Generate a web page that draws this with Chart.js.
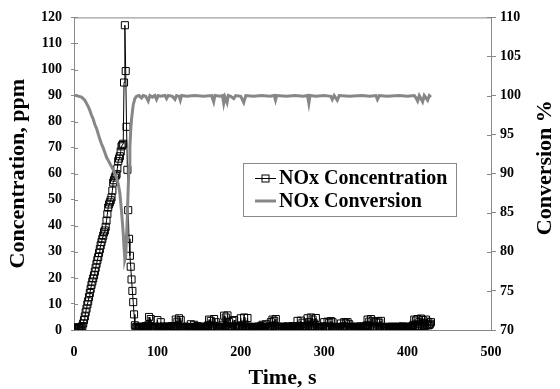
<!DOCTYPE html>
<html><head><meta charset="utf-8">
<script src="https://cdn.jsdelivr.net/npm/chart.js@4.4.0/dist/chart.umd.min.js"></script>
<style>html,body{margin:0;padding:0;background:#fff;}</style>
</head><body>
<canvas id="c" width="560" height="389"></canvas>
<script>
// ---- data ----
const concTime = [
  0,1,2,3,4,5,6,7,8,9,10,11,12,13,14,15,16,17,18,19,20,21,22,23,24,25,26,27,28,29,
  30,31,32,33,34,35,36,37,38,39,40,41,42,43,44,45,46,47,48,49,50,51,52,53,54,55,56,57,58,59,
  60,61,62,63,64,65,66,67,68,69,70,71,72,73,74,
  75,76,77,78,79,80,81,82,83,84,85,86,87,88,89,90,91,92,93,94,
  95,96,97,98,99,100,101,102,103,104,105,106,107,108,109,110,111,112,113,114,
  115,116,117,118,119,120,121,122,123,124,125,126,127,128,129,130,131,132,133,134,
  135,136,137,138,139,140,141,142,143,144,145,146,147,148,149,150,151,152,153,154,
  155,156,157,158,159,160,161,162,163,164,165,166,167,168,169,170,171,172,173,174,
  175,176,177,178,179,180,181,182,183,184,185,186,187,188,189,190,191,192,193,194,
  195,196,197,198,199,200,201,202,203,204,205,206,207,208,209,210,211,212,213,214,
  215,216,217,218,219,220,221,222,223,224,225,226,227,228,229,230,231,232,233,234,
  235,236,237,238,239,240,241,242,243,244,245,246,247,248,249,250,251,252,253,254,
  255,256,257,258,259,260,261,262,263,264,265,266,267,268,269,270,271,272,273,274,
  275,276,277,278,279,280,281,282,283,284,285,286,287,288,289,290,291,292,293,294,
  295,296,297,298,299,300,301,302,303,304,305,306,307,308,309,310,311,312,313,314,
  315,316,317,318,319,320,321,322,323,324,325,326,327,328,329,330,331,332,333,334,
  335,336,337,338,339,340,341,342,343,344,345,346,347,348,349,350,351,352,353,354,
  355,356,357,358,359,360,361,362,363,364,365,366,367,368,369,370,371,372,373,374,
  375,376,377,378,379,380,381,382,383,384,385,386,387,388,389,390,391,392,393,394,
  395,396,397,398,399,400,401,402,403,404,405,406,407,408,409,410,411,412,413,414,
  415,416,417,418,419,420,421,422,423,424,425,426,427,428
];
const concValue = [
  0.8,0.5,1.0,0.6,0.9,0.5,1.0,0.7,0.9,1.2,1.5,2.5,3.8,5.2,6.8,8.2,9.8,11.0,12.6,14.2,
  15.8,17.3,18.6,19.8,21.0,22.4,23.9,25.4,26.8,28.0,29.6,31.0,32.5,33.8,35.0,36.2,37.5,38.2,39.6,42.0,
  44.5,47.0,48.2,49.0,49.8,50.9,53.5,56.6,57.5,58.5,59.2,59.8,62.0,64.8,65.8,66.7,68.5,70.5,71.0,71.5,
  95.0,117.0,99.4,78.0,61.5,46.0,35.0,28.5,24.3,19.4,15.0,10.7,6.0,1.8,1.0,
  1.2,0.8,0.4,1.0,1.3,0.5,0.9,1.2,0.7,0.6, 1.0,1.5,0.6,1.0,1.8,5.0,1.2,4.2,0.8,1.0,
  0.4,0.6,1.0,1.2,0.7,3.8,1.3,1.0,0.6,3.0, 1.1,1.0,0.7,0.5,1.2,1.4,0.6,0.8,1.0,0.5,
  0.9,1.0,1.3,1.5,0.6,0.8,1.5,4.0,1.0,3.2, 1.4,4.5,1.0,3.8,0.8,1.2,1.0,0.6,1.3,1.0,
  0.7,0.5,1.1,1.2,0.6,2.2,0.9,1.0,0.5,2.0, 1.2,0.8,0.5,1.5,1.0,0.6,1.3,1.0,0.7,0.5,
  1.0,1.2,0.6,0.8,1.1,1.5,1.8,4.0,1.0,3.5, 0.8,1.0,1.6,4.2,1.1,3.0,0.6,1.2,0.9,0.6,
  1.3,1.0,0.7,2.0,1.2,5.5,1.0,4.8,1.5,5.6, 1.0,3.0,0.8,1.0,1.4,3.5,1.0,3.8,0.6,1.2,
  0.9,0.6,1.3,1.0,1.5,4.5,0.8,1.5,1.1,4.8, 0.7,1.2,1.0,4.6,1.3,0.8,0.6,1.0,1.2,0.5,
  0.9,1.2,1.0,0.8,0.5,1.0,1.3,0.5,0.8,1.5, 1.0,2.0,0.7,1.0,1.2,2.2,1.0,0.8,0.6,1.2,
  1.4,3.0,1.0,4.0,1.6,3.5,1.0,4.2,0.8,1.0, 1.2,0.6,0.9,1.2,0.5,0.8,1.3,1.0,0.7,0.5,
  1.0,1.4,1.2,0.8,0.6,1.0,1.1,1.5,0.9,0.6, 1.3,1.0,0.8,3.5,1.0,1.2,1.5,3.6,1.2,2.8,
  0.7,1.0,1.2,0.6,1.5,4.5,1.0,3.0,1.3,4.8, 1.6,4.0,1.0,2.5,1.2,4.6,0.7,1.0,1.3,0.8,
  0.6,1.2,1.0,0.6,1.4,3.0,0.8,1.0,1.2,3.2, 1.0,2.8,1.3,3.4,1.1,3.0,0.7,1.2,1.0,0.8,
  0.5,1.0,1.2,0.5,0.9,2.5,1.0,1.2,1.4,3.0, 1.1,2.6,1.0,3.0,1.2,2.2,0.6,1.0,1.3,0.6,
  0.9,1.2,1.0,0.8,0.6,1.0,1.3,0.5,0.8,1.4, 1.0,0.8,1.2,1.0,0.7,1.5,1.8,4.0,1.1,3.2,
  1.4,4.2,1.0,3.5,0.8,1.0,1.2,3.0,1.0,3.4, 1.3,2.8,1.0,3.5,0.9,1.2,0.6,0.8,1.2,1.0,
  0.7,0.6,1.0,1.2,0.5,0.8,1.3,1.0,0.7,0.5, 1.0,1.2,0.9,0.8,1.3,1.0,0.6,0.6,1.1,1.4,
  1.0,0.8,1.2,1.0,0.7,0.5,1.0,1.2,1.3,0.8, 1.1,1.5,2.0,4.0,1.2,3.6,1.5,4.2,1.3,3.0,
  2.2,4.4,1.6,3.8,2.0,2.6,1.5,4.0,2.1,3.2, 1.8,2.0,2.4,3.0
];
const convTime = [
  0,3,6,9,11,13,15,17,19,21,23,25,27,29,31,33,35,37,39,41,43,45,47,49,51,53,55,57,59,60,
  61,62,63,64,65,66,67,68,69,71,73,75,
  78,81,83,86,89,91,94,97,99,101,104,109,111,113,118,121,123,126,127.5,129,135,145,155,165,
  167.5,169,175,178,179.5,181,183.5,185,188,191.5,194,200,203.5,206,215,225,235,240,241.6,243,
  255,265,275,280,281.6,283,290,300,308,309.7,312,315.7,318,330,345,355,362,363.8,366,375,
  390,400,408,410,412,414,416,418,420,422,424,426,428
];
const convValue = [
  100,100,99.9,99.8,99.6,99.4,99.0,98.6,98.1,97.5,97.0,96.3,95.8,95.1,94.4,93.8,93.3,92.7,92.1,91.7,
  91.3,90.9,90.5,90.0,89.5,88.7,87.5,85.2,82.4,80.6,
  79.0,79.4,81.8,84.8,88.2,91.0,93.4,95.5,97.0,98.8,99.6,99.9,
  100,99.7,100,99.9,99.3,100,99.8,100,99.5,100,99.9,100,99.6,100,99.9,99.5,100,99.9,99.4,100,99.9,100,99.9,100,
  99.2,100,99.9,100,99.0,99.8,99.1,100,99.9,99.6,100,99.9,99.1,100,99.9,100,99.9,100,99.4,100,
  99.9,100,99.9,100,99.0,100,99.9,100,99.9,99.5,100,99.4,100,99.9,100,99.9,100,99.5,100,99.9,
  100,99.9,100,99.7,99.3,100,99.6,99.2,100,99.7,99.4,100,99.8
];
const xTickValues = [0,100,200,300,400,500];
const leftTickValues = [0,10,20,30,40,50,60,70,80,90,100,110,120];
const rightTickValues = [70,75,80,85,90,95,100,105,110];
const seriesNames = ['NOx Concentration','NOx Conversion'];
const axisTitles = {x:'Time, s', left:'Concentration, ppm', right:'Conversion %'};

// ---- styling ----
const FONT = '"Liberation Serif","Times New Roman",serif';
const AXIS = '#888888';
const CONV = '#878787';

const decorPlugin = {
  id: 'decor',
  afterDatasetsDraw(chart) {
    const {ctx, chartArea: a, scales} = chart;
    ctx.save();
    ctx.strokeStyle = AXIS; ctx.lineWidth = 1;
    ctx.beginPath();
    ctx.moveTo(a.left, a.top + 0.5); ctx.lineTo(a.right, a.top + 0.5);
    leftTickValues.forEach(v => { const y = Math.round(scales.y.getPixelForValue(v)) + 0.5; ctx.moveTo(a.left, y); ctx.lineTo(a.left + 4, y); });
    rightTickValues.forEach(v => { const y = Math.round(scales.y2.getPixelForValue(v)) + 0.5; ctx.moveTo(a.right - 4, y); ctx.lineTo(a.right, y); });
    ctx.stroke();
    // right axis title, reading bottom-to-top
    ctx.fillStyle = '#000';
    ctx.font = 'bold 22px ' + FONT;
    ctx.textAlign = 'center'; ctx.textBaseline = 'middle';
    ctx.translate(545, (a.top + a.bottom) / 2 - 6);
    ctx.rotate(-Math.PI / 2);
    ctx.fillText(axisTitles.right, 0, 0);
    ctx.restore();
  },
  afterDraw(chart) {
    const {ctx} = chart;
    ctx.save();
    const bx = 243.5, by = 163.5, bw = 213, bh = 53;
    ctx.fillStyle = '#fff'; ctx.fillRect(bx, by, bw, bh);
    ctx.strokeStyle = AXIS; ctx.lineWidth = 1; ctx.strokeRect(bx, by, bw, bh);
    const rows = [178, 201];
    ctx.strokeStyle = '#000'; ctx.lineWidth = 1;
    ctx.beginPath(); ctx.moveTo(255, rows[0] + 0.5); ctx.lineTo(276, rows[0] + 0.5); ctx.stroke();
    ctx.strokeRect(262, rows[0] - 3, 7, 7);
    ctx.strokeStyle = CONV; ctx.lineWidth = 3;
    ctx.beginPath(); ctx.moveTo(255, rows[1]); ctx.lineTo(276, rows[1]); ctx.stroke();
    ctx.fillStyle = '#000';
    ctx.font = 'bold 20px ' + FONT;
    ctx.textAlign = 'left'; ctx.textBaseline = 'middle';
    ctx.fillText(chart.data.datasets[1].label, 279, rows[0] + 1);
    ctx.fillText(chart.data.datasets[0].label, 279, rows[1] + 1);
    ctx.restore();
  }
};

const tickFont = {family: FONT, size: 14, weight: 'bold'};
const titleFont = {family: FONT, size: 22, weight: 'bold', lineHeight: 1};

new Chart(document.getElementById('c'), {
  type: 'line',
  data: {
    datasets: [
      {
        label: seriesNames[1], yAxisID: 'y2', order: 0,
        data: convTime.map((t, i) => ({x: t, y: convValue[i]})),
        borderColor: CONV, borderWidth: 3, pointRadius: 0, tension: 0, fill: false
      },
      {
        label: seriesNames[0], yAxisID: 'y', order: 1,
        data: concTime.map((t, i) => ({x: t, y: concValue[i]})),
        borderColor: '#000', borderWidth: 1, tension: 0, fill: false,
        pointStyle: 'rect', pointRadius: 5, pointBorderColor: '#000',
        pointBackgroundColor: 'rgba(0,0,0,0)', pointBorderWidth: 1
      }
    ]
  },
  options: {
    responsive: false, devicePixelRatio: 1, animation: false,
    layout: {padding: {top: 15, left: 0, right: 0, bottom: 0}},
    plugins: {legend: {display: false}, tooltip: {enabled: false}},
    scales: {
      x: {
        type: 'linear', position: 'bottom', min: 0, max: 500,
        afterBuildTicks: s => { s.ticks = xTickValues.map(v => ({value: v})); },
        afterFit: s => { s.height = 59; },
        grid: {drawOnChartArea: false, drawTicks: false},
        border: {display: true, color: AXIS, width: 1},
        ticks: {font: tickFont, color: '#000', padding: 14, maxRotation: 0},
        title: {display: true, text: axisTitles.x, font: titleFont, color: '#000', padding: {top: 0, bottom: 0}}
      },
      y: {
        type: 'linear', position: 'left', min: 0, max: 120,
        afterBuildTicks: s => { s.ticks = leftTickValues.map(v => ({value: v})); },
        afterFit: s => { s.width = 74; },
        grid: {drawOnChartArea: false, drawTicks: true, tickLength: 3, color: AXIS},
        border: {display: true, color: AXIS, width: 1},
        ticks: {font: tickFont, color: '#000', padding: 9},
        title: {display: true, text: axisTitles.left, font: titleFont, color: '#000', padding: {top: 7, bottom: 0}}
      },
      y2: {
        type: 'linear', position: 'right', min: 70, max: 110,
        afterBuildTicks: s => { s.ticks = rightTickValues.map(v => ({value: v})); },
        afterFit: s => { s.width = 69; },
        grid: {drawOnChartArea: false, drawTicks: true, tickLength: 5, color: AXIS},
        border: {display: true, color: AXIS, width: 1},
        ticks: {font: tickFont, color: '#000', padding: 4},
        title: {display: false}
      }
    }
  },
  plugins: [decorPlugin]
});
</script>
</body></html>
